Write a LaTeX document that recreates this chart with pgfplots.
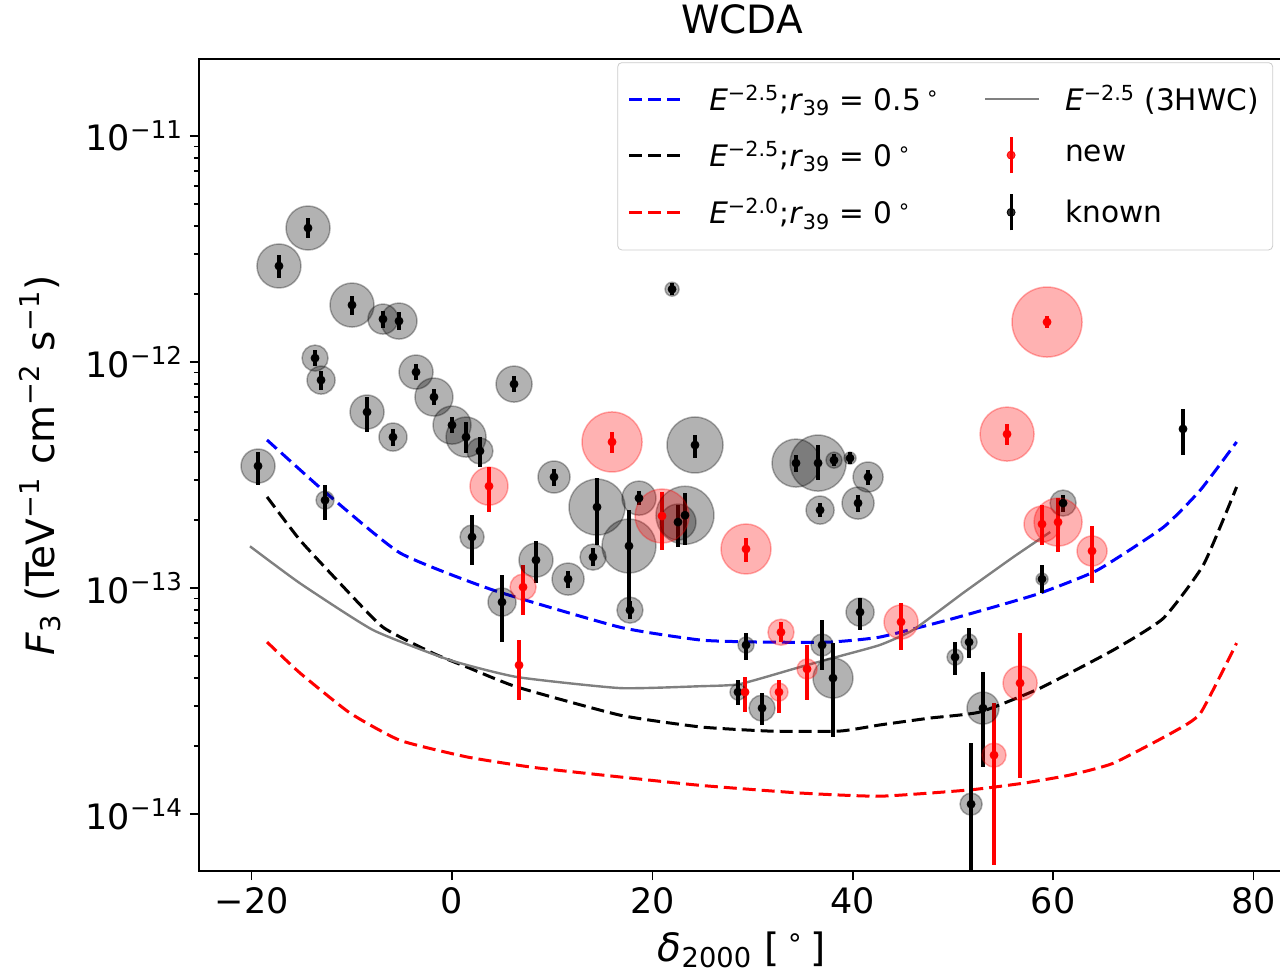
\documentclass[border=0pt]{standalone}
\usepackage{fontspec}
\setmainfont{DejaVu Sans}
\usepackage{pgfplots}
\usepackage{pgfplotstable}
\pgfplotsset{compat=1.18}

\newcommand{\ticksize}{\fontsize{17.5}{21}\selectfont}
\newcommand{\labsize}{\fontsize{19.5}{23}\selectfont}
\newcommand{\legsize}{\fontsize{14.8}{18}\selectfont}

\pgfplotsset{
  linelegend/.style={legend image code/.code={%
      \draw[##1] (0pt,0pt) -- (27pt,0pt);
      \path[draw=none] (0pt,0pt) -- (38pt,0pt);}},
  barlegend/.style={legend image code/.code={%
      \draw[#1, line width=1.6pt] (13pt,-9pt) -- (13pt,9pt);
      \fill[#1] (13pt,0pt) circle (2pt);
      \path[draw=none] (0pt,0pt) -- (38pt,0pt);}},
  sens/.style={line width=1.5pt, dash pattern=on 6.5pt off 3pt},
  fluxbar/.style={forget plot, #1, only marks, mark=*, mark size=2pt,
    error bars/.cd, y dir=both, y explicit, error mark=none,
    error bar style={line width=1.6pt, #1}},
}

% one translucent disc per source, radius given in the r column (px)
\newcommand{\extents}[2]{%
  \pgfplotstablegetrowsof{#1}%
  \pgfmathtruncatemacro\lastrow{\pgfplotsretval-1}%
  \pgfplotsforeachungrouped \i in {0,...,\lastrow}{%
    \pgfplotstablegetelem{\i}{x}\of#1\let\srcx\pgfplotsretval
    \pgfplotstablegetelem{\i}{y}\of#1\let\srcy\pgfplotsretval
    \pgfplotstablegetelem{\i}{r}\of#1\let\srcr\pgfplotsretval
    \edef\doplot{\noexpand\addplot[forget plot, only marks, mark=*,
      mark size=0.5*\srcr, mark options={draw=#2, fill=#2, line width=0.75pt,
      draw opacity=0.3, fill opacity=0.3}] coordinates {(\srcx,\srcy)};}%
    \doplot
  }%
}

% columns: declination, flux, lower and upper end of the error bar, extension radius (px)
\pgfplotstableread{
x y lo hi r
-19.36 3.467e-13 2.858e-13 4.00e-13 17
-17.27 2.66e-12 2.355e-12 2.97e-12 22
-14.37 3.917e-12 3.539e-12 4.336e-12 22
-13.67 1.041e-12 9.60e-13 1.130e-12 13
-13.07 8.32e-13 7.52e-13 9.12e-13 14
-12.67 2.449e-13 2.0e-13 2.858e-13 9
-9.98 1.787e-12 1.614e-12 1.959e-12 22
-8.48 6.01e-13 4.90e-13 7.0e-13 17
-6.89 1.549e-12 1.413e-12 1.683e-12 15
-5.29 1.518e-12 1.387e-12 1.664e-12 18
-5.89 4.656e-13 4.249e-13 5.058e-13 14
-3.59 9.03e-13 8.32e-13 9.80e-13 17
-1.80 7.0e-13 6.45e-13 7.60e-13 19
0.00 5.26e-13 4.85e-13 5.71e-13 19
1.40 4.656e-13 3.955e-13 5.43e-13 20
2.79 4.04e-13 3.43e-13 4.656e-13 13
2.00 1.683e-13 1.264e-13 2.10e-13 12
4.99 8.67e-14 5.77e-14 1.141e-13 14
6.19 7.99e-13 7.36e-13 8.67e-13 18
8.38 1.330e-13 1.052e-13 1.614e-13 17
10.18 3.10e-13 2.825e-13 3.365e-13 16
11.58 1.096e-13 1.0e-13 1.189e-13 16
14.47 2.282e-13 1.549e-13 3.07e-13 28
14.07 1.371e-13 1.251e-13 1.503e-13 13
17.66 1.535e-13 7.99e-14 2.213e-13 27
17.76 7.99e-14 7.29e-14 8.75e-14 13
18.66 2.50e-13 2.328e-13 2.686e-13 17
21.96 2.10e-12 1.977e-12 2.239e-12 7
22.55 1.959e-13 1.518e-13 2.328e-13 18
23.25 2.10e-13 1.549e-13 2.63e-13 29
24.25 4.295e-13 3.758e-13 4.753e-13 28
29.34 5.598e-14 4.80e-14 6.32e-14 8
28.54 3.467e-14 3.035e-14 3.917e-14 8
30.94 2.944e-14 2.477e-14 3.43e-14 13
36.93 5.598e-14 4.336e-14 7.21e-14 11
38.02 3.999e-14 2.193e-14 5.71e-14 20
34.33 3.573e-13 3.26e-13 3.873e-13 24
36.53 3.573e-13 3.006e-13 4.295e-13 28
38.12 3.681e-13 3.467e-13 3.917e-13 8
39.72 3.758e-13 3.539e-13 4.00e-13 6
41.52 3.10e-13 2.858e-13 3.327e-13 15
40.52 2.377e-13 2.168e-13 2.58e-13 16
36.73 2.213e-13 2.061e-13 2.377e-13 14
40.72 7.83e-14 6.52e-14 9.03e-14 14
50.20 4.95e-14 4.12e-14 5.77e-14 8
51.60 5.77e-14 4.90e-14 6.65e-14 8
52.99 2.944e-14 1.614e-14 4.249e-14 16
51.80 1.107e-14 5.0e-15 2.061e-14 11
58.88 1.096e-13 9.50e-14 1.264e-13 6
60.98 2.377e-13 2.168e-13 2.58e-13 13
72.95 5.058e-13 3.873e-13 6.19e-13 0
}\known

\pgfplotstableread{
x y lo hi r
3.69 2.825e-13 2.168e-13 3.43e-13 19
7.09 1.010e-13 7.60e-14 1.264e-13 13
6.69 4.56e-14 3.19e-14 5.89e-14 0
15.97 4.43e-13 3.955e-13 4.90e-13 30
20.96 2.084e-13 1.472e-13 2.66e-13 27
29.34 1.489e-13 1.303e-13 1.664e-13 25
32.83 6.38e-14 5.77e-14 7.08e-14 13
29.24 3.467e-14 2.825e-14 4.04e-14 0
32.63 3.467e-14 2.80e-14 3.917e-14 9
35.43 4.385e-14 3.19e-14 5.598e-14 10
44.81 7.08e-14 5.32e-14 8.59e-14 17
54.09 1.824e-14 5.95e-15 3.10e-14 12
56.69 3.80e-14 1.443e-14 6.32e-14 17
55.39 4.80e-13 4.295e-13 5.32e-13 27
59.38 1.503e-12 1.413e-12 1.599e-12 35
58.88 1.919e-13 1.549e-13 2.328e-13 18
60.48 1.959e-13 1.443e-13 2.50e-13 24
63.87 1.459e-13 1.052e-13 1.879e-13 15
}\newsrc

\begin{document}
\begin{tikzpicture}
\useasboundingbox (-99.5pt,-53.5pt) rectangle (540.5pt,435.5pt);
\begin{axis}[
  scale only axis,
  width=543pt, height=406pt,
  xmin=-25.25, xmax=83.13,
  ymode=log, ymin=5.6e-15, ymax=2.19e-11,
  axis line style={line width=1pt},
  tick align=outside, tick pos=left,
  major tick length=4.5pt, minor tick length=2.5pt,
  every tick/.style={black, line width=0.8pt},
  xtick={-20,0,20,40,60,80},
  xticklabels={−20,0,20,40,60,80},
  ytick={1e-14,1e-13,1e-12,1e-11},
  yticklabels={10\textsuperscript{−14},10\textsuperscript{−13},10\textsuperscript{−12},10\textsuperscript{−11}},
  tick label style={font=\ticksize},
  label style={font=\labsize},
  xlabel={\textit{δ}\textsubscript{2000} [\,\textsuperscript{∘}\,]},
  ylabel={\textit{F}\textsubscript{3} (TeV\textsuperscript{−1} cm\textsuperscript{−2} s\textsuperscript{−1})},
  xlabel style={at={(axis description cs:0.5,-0.0973)}, anchor=center},
  ylabel style={at={(axis description cs:-0.1464,0.5)}, anchor=center},
  title={WCDA},
  title style={font=\labsize, at={(axis description cs:0.5,1.0345)}, anchor=center},
  legend columns=2,
  legend cell align=left,
  legend style={at={(axis description cs:0.989,0.996)}, anchor=north east,
    font=\legsize, draw=black!20, fill=white, fill opacity=0.8, text opacity=1,
    draw opacity=1, rounded corners=2pt, inner xsep=5pt, inner ysep=9pt,
    row sep=9pt, /tikz/every even column/.append style={column sep=20pt}},
]
% legend entries
\addlegendimage{linelegend, blue, sens}
\addlegendentry{\textit{E}\textsuperscript{−2.5};\textit{r}\textsubscript{39} = 0.5\,\textsuperscript{∘}}
\addlegendimage{linelegend, gray, line width=1.2pt}
\addlegendentry{\textit{E}\textsuperscript{−2.5} (3HWC)}
\addlegendimage{linelegend, black, sens}
\addlegendentry{\textit{E}\textsuperscript{−2.5};\textit{r}\textsubscript{39} = 0\,\textsuperscript{∘}}
\addlegendimage{barlegend=red}
\addlegendentry{new}
\addlegendimage{linelegend, red, sens}
\addlegendentry{\textit{E}\textsuperscript{−2.0};\textit{r}\textsubscript{39} = 0\,\textsuperscript{∘}}
\addlegendimage{barlegend=black}
\addlegendentry{known}

% source extensions
\extents{\known}{black}
\extents{\newsrc}{red}

% sensitivity curves
\addplot[forget plot, blue, sens, smooth, tension=0.3] coordinates {
(-18.46,4.52e-13) (-12.67,2.66e-13) (-5.19,1.43e-13) (4.09,9.8e-14) (16.77,6.71e-14)
(24.8,5.89e-14) (30.7,5.77e-14) (37.7,5.77e-14) (42.7,6.07e-14) (49.4,7.21e-14)
(54.7,8.4e-14) (58.7,9.5e-14) (64.4,1.20e-13) (71.0,1.86e-13) (74.7,2.72e-13)
(78.3,4.43e-13)};
\addplot[forget plot, black, sens, smooth, tension=0.3] coordinates {
(-18.46,2.53e-13) (-15.17,1.63e-13) (-11.18,1.05e-13) (-6.89,6.71e-14) (-1.90,5.15e-14)
(1.50,4.47e-14) (6.49,3.65e-14) (16.77,2.74e-14) (24.8,2.43e-14) (31.7,2.33e-14)
(38.7,2.33e-14) (42.7,2.48e-14) (47.7,2.66e-14) (52.7,2.83e-14) (58.7,3.61e-14)
(66.0,5.32e-14) (71.0,7.36e-14) (75.0,1.27e-13) (78.3,2.80e-13)};
\addplot[forget plot, red, sens, smooth, tension=0.3] coordinates {
(-18.46,5.77e-14) (-15.17,4.21e-14) (-10.18,2.80e-14) (-5.19,2.12e-14) (1.50,1.79e-14)
(8.08,1.61e-14) (16.77,1.46e-14) (24.8,1.34e-14) (34.7,1.24e-14) (42.7,1.20e-14)
(51.7,1.28e-14) (57.0,1.37e-14) (61.7,1.49e-14) (66.0,1.68e-14) (72.0,2.31e-14)
(74.7,2.80e-14) (78.3,5.71e-14)};
\addplot[forget plot, gray, line width=1.2pt, smooth, tension=0.3] coordinates {
(-20.16,1.53e-13) (-15.17,1.05e-13) (-7.88,6.52e-14) (-0.2,4.80e-14) (6.49,4.04e-14)
(16.77,3.61e-14) (24.8,3.68e-14) (28.7,3.76e-14) (34.7,4.47e-14) (38.7,5.00e-14)
(42.7,5.60e-14) (46.0,6.52e-14) (51.0,9.51e-14) (56.0,1.37e-13) (59.7,1.77e-13)};

% fluxes with errors
\addplot[fluxbar=black]
  table[x=x, y=y, y error plus expr={\thisrow{hi}-\thisrow{y}},
        y error minus expr={\thisrow{y}-\thisrow{lo}}] {\known};
\addplot[fluxbar=red]
  table[x=x, y=y, y error plus expr={\thisrow{hi}-\thisrow{y}},
        y error minus expr={\thisrow{y}-\thisrow{lo}}] {\newsrc};
\end{axis}
\end{tikzpicture}
\end{document}
